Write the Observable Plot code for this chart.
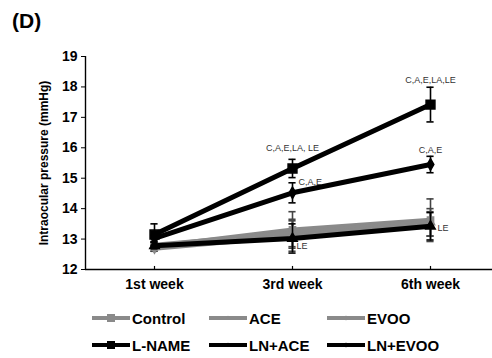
<!DOCTYPE html>
<html><head><meta charset="utf-8">
<script src="https://cdn.jsdelivr.net/npm/d3@7"></script>
<script src="https://cdn.jsdelivr.net/npm/@observablehq/plot@0.6"></script>
<style>
body{margin:0;background:#fff;font-family:"Liberation Sans",Arial,sans-serif;}
#wrap{position:relative;width:492px;height:358px;overflow:hidden;}
#title{position:absolute;left:12px;top:9px;font-size:21px;font-weight:bold;}
.leg{position:absolute;display:flex;align-items:center;height:20px;font-size:15px;font-weight:bold;}
.leg svg{display:block;}
</style></head>
<body><div id="wrap"><div id="title">(D)</div></div>
<script>
const weeks = ["1st week", "3rd week", "6th week"];
const seriesNames = ["Control", "ACE", "EVOO", "L-NAME", "LN+ACE", "LN+EVOO"];
const controlMean = [12.75, 13.30, 13.62];
const controlErr  = [0.15, 0.60, 0.70];
const aceMean     = [12.80, 13.20, 13.55];
const aceErr      = [0.10, 0.45, 0.45];
const evooMean    = [12.70, 13.10, 13.50];
const evooErr     = [0.10, 0.50, 0.40];
const lnameMean   = [13.15, 15.32, 17.42];
const lnameErr    = [0.35, 0.30, 0.57];
const lnAceMean   = [12.78, 13.02, 13.42];
const lnAceErr    = [0.10, 0.48, 0.45];
const lnEvooMean  = [13.02, 14.52, 15.45];
const lnEvooErr   = [0.10, 0.33, 0.27];
const yTicks = [12, 13, 14, 15, 16, 17, 18, 19];
const grayGroups = ["Control", "ACE", "EVOO"];
const blackGroups = ["L-NAME", "LN+ACE", "LN+EVOO"];
const symbols = {"Control":"square","ACE":"triangle","EVOO":"diamond","L-NAME":"square","LN+ACE":"triangle","LN+EVOO":"diamond"};
const symbolR = {"Control":3.5,"ACE":3,"EVOO":3,"L-NAME":5,"LN+ACE":3.5,"LN+EVOO":3.5};

const means = [controlMean, aceMean, evooMean, lnameMean, lnAceMean, lnEvooMean];
const errs = [controlErr, aceErr, evooErr, lnameErr, lnAceErr, lnEvooErr];
const rows = seriesNames.flatMap((s, k) => weeks.map((w, i) => ({s, i, v: means[k][i], e: errs[k][i]})));
const gray = rows.filter(d => grayGroups.includes(d.s));
const black = rows.filter(d => blackGroups.includes(d.s));
const pick = (s, i) => rows.find(d => d.s === s && d.i === i);

const GRAY = "#8a8a8a";
const capW = 0.026;
function errMarks(data, color) {
  return [
    Plot.ruleX(data, {x: "i", y1: d => d.v - d.e, y2: d => d.v + d.e, stroke: color, strokeWidth: 1.6}),
    Plot.ruleY(data, {x1: d => d.i - capW, x2: d => d.i + capW, y: d => d.v + d.e, stroke: color, strokeWidth: 1.6}),
    Plot.ruleY(data, {x1: d => d.i - capW, x2: d => d.i + capW, y: d => d.v - d.e, stroke: color, strokeWidth: 1.6})
  ];
}
function dotMarks(data, color) {
  return seriesNames.filter(s => data.some(d => d.s === s)).map(s =>
    Plot.dot(data.filter(d => d.s === s), {x: "i", y: "v", symbol: () => symbols[s], r: symbolR[s], fill: color, stroke: color}));
}
const annot = (s, i, txt, opts) => Plot.text([pick(s, i)], {x: "i", y: "v", text: () => txt, fontSize: 9, fontWeight: "normal", fill: "#333", ...opts});

const chart = Plot.plot({
  width: 492, height: 300,
  marginTop: 56, marginBottom: 31, marginLeft: 85, marginRight: 0,
  x: {type: "linear", domain: [-0.5, 2.5], range: [85, 499]},
  y: {domain: [12, 19], range: [269, 56]},
  symbol: {type: "identity"},
  style: {fontFamily: "Liberation Sans, Arial, sans-serif", fontWeight: "bold", fontSize: "14px", color: "#000", background: "transparent"},
  marks: [
    Plot.axisY({ticks: yTicks, tickFormat: d3.format("d"), tickSize: 4, tickPadding: 4, label: null, fontSize: 14}),
    Plot.axisY({ticks: [], tickSize: 0, label: "Intraocular pressure (mmHg)", labelAnchor: "center", labelArrow: "none", labelOffset: 46, fontSize: 12}),
    Plot.axisX({ticks: [0, 1, 2], tickFormat: i => weeks[i], tickSize: 0, tickPadding: 10, label: null, fontSize: 14}),
    Plot.ruleX([0, 1, 2], {x: d => d, y1: 12, y2: 12.1, stroke: "#000", strokeWidth: 1.2}),
    Plot.ruleX([-0.5], {stroke: "#000", strokeWidth: 1.4}),
    Plot.ruleY([12], {stroke: "#000", strokeWidth: 1.4}),
    ...errMarks(gray, "#444"),
    ...grayGroups.map(s => Plot.line(gray.filter(d => d.s === s), {x: "i", y: "v", stroke: GRAY, strokeWidth: 5})),
    ...dotMarks(gray, GRAY),
    ...errMarks(black, "#000"),
    ...blackGroups.map(s => Plot.line(black.filter(d => d.s === s), {x: "i", y: "v", stroke: "#000", strokeWidth: 5})),
    ...dotMarks(black, "#000"),
    annot("L-NAME", 2, "C,A,E,LA,LE", {dy: -24}),
    annot("L-NAME", 1, "C,A,E,LA, LE", {dy: -20}),
    annot("LN+EVOO", 1, "C,A,E", {dy: -11, dx: 6, textAnchor: "start"}),
    annot("LN+EVOO", 2, "C,A,E", {dy: -14}),
    annot("LN+ACE", 1, "LE", {dy: 8, dx: 4, textAnchor: "start"}),
    annot("LN+ACE", 2, "LE", {dy: 2, dx: 7, textAnchor: "start"})
  ]
});
const wrap = document.getElementById("wrap");
chart.style.position = "absolute"; chart.style.left = "0"; chart.style.top = "0";
wrap.appendChild(chart);

// legend
const legCols = [92, 209, 327];
const legRows = [308, 335];
const symPath = {
  square: r => `<rect x="${19 - r}" y="${5 - r}" width="${2 * r}" height="${2 * r}"/>`,
  triangle: r => `<polygon points="19,${5 - r} ${19 + r},${5 + r * 0.8} ${19 - r},${5 + r * 0.8}"/>`,
  diamond: r => `<polygon points="19,${5 - r} ${19 + r},5 19,${5 + r} ${19 - r},5"/>`
};
seriesNames.forEach((s, k) => {
  const col = grayGroups.includes(s) ? GRAY : "#000";
  const r = s === "L-NAME" || s === "Control" ? 4 : 2.5;
  const el = document.createElement("div");
  el.className = "leg";
  el.style.left = legCols[k % 3] + "px";
  el.style.top = legRows[Math.floor(k / 3)] + "px";
  el.innerHTML = `<svg width="40" height="10"><line x1="0" x2="38" y1="5" y2="5" stroke="${col}" stroke-width="4"/><g fill="${col}">${symPath[symbols[s]](r)}</g></svg><span>${s}</span>`;
  wrap.appendChild(el);
});
</script></body></html>
